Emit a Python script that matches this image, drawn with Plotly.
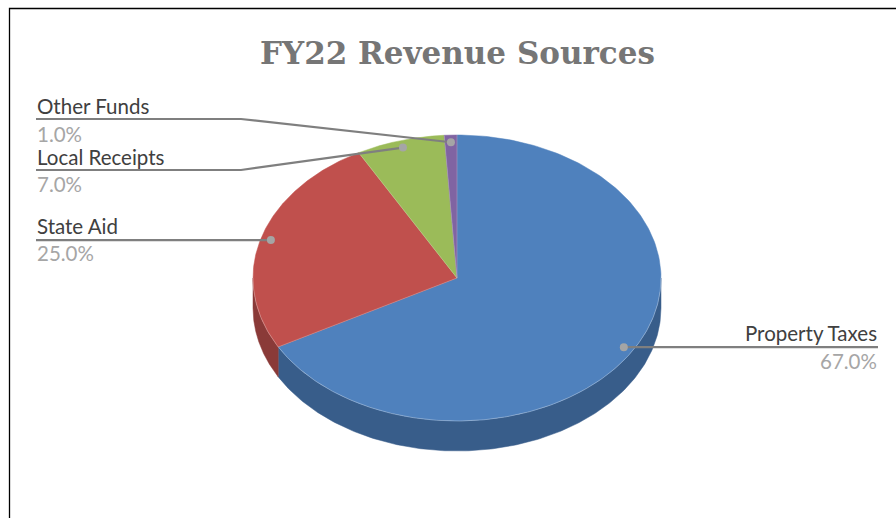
import numpy as np
import plotly.graph_objects as go

TITLE = "FY22 Revenue Sources"
categories = ["Property Taxes", "State Aid", "Local Receipts", "Other Funds"]
values = [67.0, 25.0, 7.0, 1.0]
top_colors = ["#4F81BD", "#C0504D", "#9BBB59", "#8064A2"]
side_colors = ["#385D8A", "#8A3A38", "#76903F", "#5F4A7C"]

W, H = 896, 518
CX, CY, RX, RY, DEPTH = 457.0, 278.0, 204.0, 143.0, 30.0
DOT = 0.95


def pt(t, f=1.0, dy=0.0):
    return CX + RX * f * np.sin(t), CY - RY * f * np.cos(t) + dy


fig = go.Figure()


def poly(x, y, fill):
    fig.add_trace(go.Scatter(x=x, y=y, mode="lines", fill="toself", fillcolor=fill,
                             line=dict(color=fill, width=0.5), hoverinfo="skip", showlegend=False))


edges = 2 * np.pi * np.concatenate([[0], np.cumsum(values)]) / sum(values)

# side wall (front half only)
for i in range(len(values)):
    a, b = max(edges[i], np.pi / 2), min(edges[i + 1], 3 * np.pi / 2)
    if b > a:
        t = np.linspace(a, b, 200)
        x1, y1 = pt(t)
        x2, y2 = pt(t[::-1], dy=DEPTH)
        poly(np.r_[x1, x2, x1[0]], np.r_[y1, y2, y1[0]], side_colors[i])

# top face
for i in range(len(values)):
    t = np.linspace(edges[i], edges[i + 1], 200)
    x, y = pt(t)
    poly(np.r_[CX, x, CX], np.r_[CY, y, CY], top_colors[i])

# edge highlights
for i in range(len(values)):
    x, y = pt(np.array([edges[i]]))
    fig.add_trace(go.Scatter(x=[CX, x[0]], y=[CY, y[0]], mode="lines",
                             line=dict(color="rgba(255,255,255,0.25)", width=0.8),
                             hoverinfo="skip", showlegend=False))
t = np.linspace(np.pi / 2, 3 * np.pi / 2, 300)
x, y = pt(t)
fig.add_trace(go.Scatter(x=x, y=y, mode="lines", line=dict(color="rgba(255,255,255,0.35)", width=0.8),
                         hoverinfo="skip", showlegend=False))

# leader lines, dots, labels
LEADERS = {
    "Property Taxes": dict(path=[878], ty=333, vy=361, x=878, anchor="right"),
    "State Aid": dict(path=[36], ty=226, vy=253, x=36, anchor="left"),
    "Local Receipts": dict(path=[36, 241], ty=157, vy=184, x=36, anchor="left"),
    "Other Funds": dict(path=[36, 241], ty=106, vy=134, x=36, anchor="left"),
}
ROW_Y = {"Property Taxes": None, "State Aid": None, "Local Receipts": 170, "Other Funds": 119}

annotations = [dict(x=457, y=53, xref="x", yref="y", text=f"<b>{TITLE}</b>", showarrow=False,
                    font=dict(family="DejaVu Serif", size=31, color="#767676"))]
for i, name in enumerate(categories):
    mid = (edges[i] + edges[i + 1]) / 2
    dx, dy = pt(mid, DOT)
    L = LEADERS[name]
    ry = ROW_Y[name] if ROW_Y[name] is not None else dy
    xs = L["path"] + [dx]
    ys = [ry] * len(L["path"]) + [dy]
    fig.add_trace(go.Scatter(x=xs, y=ys, mode="lines", line=dict(color="#7F7F7F", width=2.2),
                             hoverinfo="skip", showlegend=False))
    fig.add_trace(go.Scatter(x=[dx], y=[dy], mode="markers",
                             marker=dict(color="#A5A5A5", size=8), hoverinfo="skip", showlegend=False))
    annotations.append(dict(x=L["x"], y=L["ty"], xref="x", yref="y", text=name, showarrow=False,
                            xanchor=L["anchor"], xshift=-1 if L["anchor"] == "left" else 1,
                            font=dict(family="Lato", size=20.5, color="#404040")))
    annotations.append(dict(x=L["x"], y=L["vy"], xref="x", yref="y", text=f"{values[i]:.1f}%", showarrow=False,
                            xanchor=L["anchor"], xshift=-1 if L["anchor"] == "left" else 1,
                            font=dict(family="Lato", size=20.5, color="#A6A6A6")))

# frame: top and left edges only
fig.add_trace(go.Scatter(x=[9.5, 9.5, W], y=[H, 8.5, 8.5], mode="lines",
                         line=dict(color="#000000", width=1.3), hoverinfo="skip", showlegend=False))

fig.update_layout(width=W, height=H, margin=dict(l=0, r=0, t=0, b=0), autosize=False,
                  paper_bgcolor="white", plot_bgcolor="white", showlegend=False,
                  annotations=annotations,
                  xaxis=dict(range=[0, W], visible=False, fixedrange=True),
                  yaxis=dict(range=[H, 0], visible=False, fixedrange=True))
fig.write_html("out.html", config=dict(displayModeBar=False),
               post_script="document.body.style.margin='0';document.body.style.overflow='hidden';")
